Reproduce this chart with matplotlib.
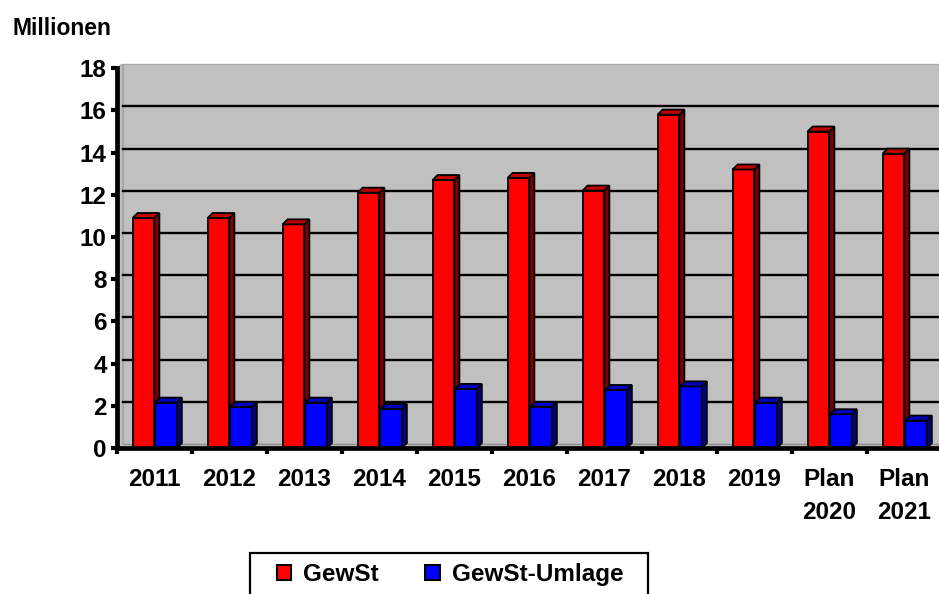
import matplotlib
matplotlib.use('Agg')
import matplotlib.pyplot as plt
from matplotlib.patches import Polygon, Rectangle, Patch
from matplotlib.ticker import FixedLocator
import numpy as np

categories = ['2011', '2012', '2013', '2014', '2015', '2016', '2017', '2018', '2019',
              'Plan\n2020', 'Plan\n2021']
gewst = [10.9, 10.9, 10.6, 12.1, 12.7, 12.8, 12.2, 15.8, 13.2, 15.0, 13.95]
umlage = [2.15, 1.95, 2.15, 1.85, 2.8, 1.95, 2.75, 2.92, 2.15, 1.6, 1.3]
series_names = ['GewSt', 'GewSt-Umlage']
yticks = list(range(0, 19, 2))
unit_label = 'Millionen'

plt.rcParams['font.family'] = ['Liberation Sans', 'DejaVu Sans']

W, H = 939, 594
fig = plt.figure(figsize=(W / 100, H / 100), dpi=100, facecolor='white')

x_left_px = 116.5
cat_px = 75.0
y0_px = 448.0
unit_px = 21.1
n = len(categories)
ax = fig.add_axes([x_left_px / W, (H - y0_px) / H, n * cat_px / W, 18 * unit_px / H])
ax.set_xlim(-0.5, n - 0.5)
ax.set_ylim(0, 18)
ax.patch.set_alpha(0)

# 3D wall offsets (data units)
wdx = 6 / cat_px
wdy = 4 / unit_px
# bar depth offsets
bdx = 5 / cat_px
bdy = 5 / unit_px

wall = '#C0C0C0'
xr = n + 1
# back wall
ax.add_patch(Rectangle((-0.5 + wdx, wdy), xr, 18, fc=wall, ec='#A8A8A8', lw=1.0,
                       clip_on=False, zorder=0))
# left wall
ax.add_patch(Polygon([(-0.5, 0), (-0.5 + wdx, wdy), (-0.5 + wdx, 18 + wdy), (-0.5, 18)],
                     closed=True, fc=wall, ec='#A8A8A8', lw=1.0, clip_on=False, zorder=0))
# floor
ax.add_patch(Polygon([(-0.5, 0), (xr, 0), (xr, wdy), (-0.5 + wdx, wdy)], closed=True,
                     fc=wall, ec='none', clip_on=False, zorder=0.5))
ax.plot([-0.5 + wdx, xr], [wdy, wdy], color='#909090', lw=1.0, clip_on=False, zorder=0.6)

for v in yticks[1:-1]:
    ax.plot([-0.5 + wdx, xr], [v + wdy, v + wdy], color='black', lw=1.7,
            clip_on=False, zorder=1)

bw = 0.29
xpos = np.arange(n)
specs = [
    (gewst, xpos - 0.285, '#FF0000', '#800000', '#C00000', 3),
    (umlage, xpos + 0.015, '#0000FF', '#000080', '#0000C0', 4),
]
for vals, xs, fc, side_c, top_c, z in specs:
    bars = ax.bar(xs, vals, width=bw, align='edge', color=fc, edgecolor='black',
                  linewidth=1.3, zorder=z, clip_on=False)
    for b in bars:
        x0, w, h = b.get_x(), b.get_width(), b.get_height()
        side = Polygon([(x0 + w, 0), (x0 + w + bdx, bdy), (x0 + w + bdx, h + bdy), (x0 + w, h)],
                       closed=True, fc=side_c, ec='black', lw=1.3, zorder=z, clip_on=False)
        top = Polygon([(x0, h), (x0 + bdx, h + bdy), (x0 + w + bdx, h + bdy), (x0 + w, h)],
                      closed=True, fc=top_c, ec='black', lw=1.3, zorder=z, clip_on=False)
        ax.add_patch(side)
        ax.add_patch(top)

for s in ['top', 'right']:
    ax.spines[s].set_visible(False)
for s in ['left', 'bottom']:
    ax.spines[s].set_linewidth(3.4)
    ax.spines[s].set_color('black')
    ax.spines[s].set_zorder(6)

ax.set_yticks(yticks)
ax.set_yticklabels([str(v) for v in yticks], fontsize=17.5, fontweight='bold')
ax.tick_params(axis='y', length=4, width=3, direction='out', pad=3)

ax.xaxis.set_major_locator(FixedLocator(np.arange(-0.5, n, 1.0)))
ax.xaxis.set_minor_locator(FixedLocator(xpos))
ax.set_xticklabels([''] * len(np.arange(-0.5, n, 1.0)))
ax.set_xticklabels(categories, minor=True, fontsize=17.5, fontweight='bold', linespacing=1.55)
ax.tick_params(axis='x', which='major', length=4, width=3, direction='out')
ax.tick_params(axis='x', which='minor', length=0, pad=14.5)

fig.text(13 / W, 1 - 35 / H, unit_label, fontsize=16.5, fontweight='bold',
         ha='left', va='baseline')

# legend frame (extends past the bottom edge, as in the reference)
fig.patches.append(Rectangle((250 / W, 1 - 620 / H), 398 / W, 67 / H,
                             transform=fig.transFigure, fc='white', ec='black',
                             lw=1.6, zorder=1))
handles = [Patch(fc='#FF0000', ec='black', lw=1.5), Patch(fc='#0000FF', ec='black', lw=1.5)]
leg = fig.legend(handles, series_names, loc='upper center',
                 bbox_to_anchor=(450 / W, 1 - 563 / H), ncol=2, frameon=False,
                 borderaxespad=0, prop=dict(weight='bold', size=17.5),
                 handlelength=0.6, handleheight=0.6, handletextpad=0.5,
                 columnspacing=1.9, borderpad=0)
leg.set_zorder(2)

fig.savefig('out.png', dpi=100, facecolor='white')
